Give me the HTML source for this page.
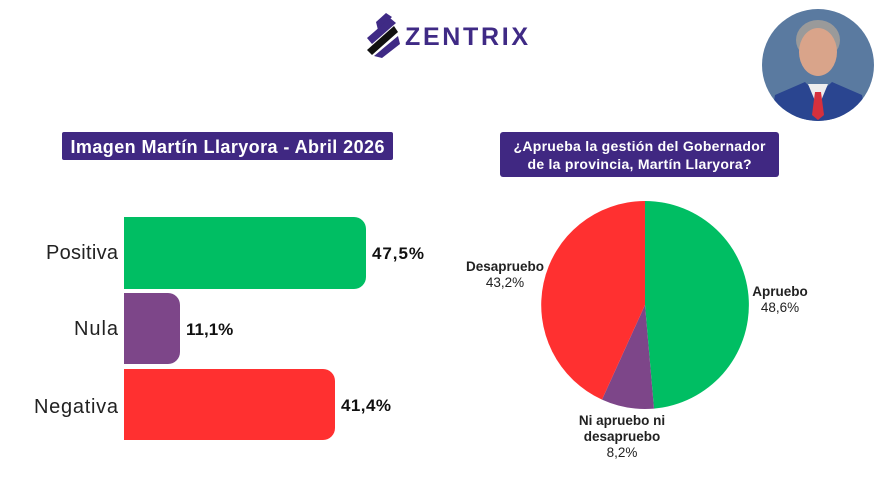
<!DOCTYPE html>
<html><head><meta charset="utf-8"><style>
html,body{margin:0;padding:0;background:#fff;}
body{width:886px;height:498px;overflow:hidden;font-family:"Liberation Sans",sans-serif;}
</style></head><body>
<svg width="886" height="498" viewBox="0 0 886 498" xmlns="http://www.w3.org/2000/svg" font-family="Liberation Sans, sans-serif">
<g>
<path d="M376 22 L386 13 L392 17 L378 30 Z" fill="#3f2a85"/>
<path d="M367 38 L390 18 L396 23 L372 44 Z" fill="#3f2a85"/>
<path d="M367 50 L394 26 L398 32 L372 55 Z" fill="#111"/>
<path d="M374 56 L398 36 L400 44 L382 58 Z" fill="#3f2a85"/>
<text x="405" y="45" font-size="25" font-weight="bold" fill="#3f2a85" letter-spacing="3" textLength="126">ZENTRIX</text>
</g>
<defs><clipPath id="c"><circle cx="818" cy="65" r="56"/></clipPath></defs>
<g clip-path="url(#c)">
<rect x="760" y="8" width="120" height="115" fill="#5a7aa0"/>
<ellipse cx="818" cy="40" rx="22" ry="20" fill="#9a9a9a"/>
<ellipse cx="818" cy="52" rx="19" ry="24" fill="#d9a48a"/>
<path d="M770 125 L775 95 L805 82 L818 95 L832 82 L862 95 L868 125 Z" fill="#2a4590"/>
<path d="M808 84 L818 108 L828 84 Z" fill="#eee"/>
<path d="M815 92 L821 92 L824 115 L818 120 L812 115 Z" fill="#d6303c"/>
</g>
<rect x="62" y="132" width="331" height="28" rx="2" fill="#402882"/>
<text x="227.5" y="153" font-size="18" font-weight="bold" fill="#fff" text-anchor="middle" textLength="314">Imagen Martín Llaryora - Abril 2026</text>
<path d="M124 217 H354 a12 12 0 0 1 12 12 V277 a12 12 0 0 1 -12 12 H124 Z" fill="#00be63"/>
<path d="M124 293 H168 a12 12 0 0 1 12 12 V352 a12 12 0 0 1 -12 12 H124 Z" fill="#7d4689"/>
<path d="M124 369 H323 a12 12 0 0 1 12 12 V428 a12 12 0 0 1 -12 12 H124 Z" fill="#ff3030"/>
<g font-size="20" fill="#222" text-anchor="end">
<text x="118" y="259" textLength="72">Positiva</text>
<text x="118" y="335" textLength="44">Nula</text>
<text x="118" y="413" textLength="84">Negativa</text>
</g>
<g font-size="17" font-weight="bold" fill="#111">
<text x="372" y="259" textLength="52">47,5%</text>
<text x="186" y="335">11,1%</text>
<text x="341" y="411" textLength="50">41,4%</text>
</g>
<rect x="500" y="132" width="279" height="45" rx="3" fill="#402882"/>
<text x="639.5" y="151" font-size="14" font-weight="bold" fill="#fff" text-anchor="middle" textLength="252">¿Aprueba la gestión del Gobernador</text>
<text x="639.5" y="169" font-size="14" font-weight="bold" fill="#fff" text-anchor="middle" textLength="224">de la provincia,  Martín Llaryora?</text>
<path d="M645 305 L645 201 A104 104 0 0 1 654 408.6 Z" fill="#00be63"/>
<path d="M645 305 L654 408.6 A104 104 0 0 1 602 399.6 Z" fill="#7d4689"/>
<path d="M645 305 L602 399.6 A104 104 0 0 1 645 201 Z" fill="#ff3030"/>
<g font-size="13.5" fill="#222" text-anchor="middle">
<text x="505" y="271" font-weight="bold">Desapruebo</text>
<text x="505" y="287">43,2%</text>
<text x="780" y="296" font-weight="bold">Apruebo</text>
<text x="780" y="312">48,6%</text>
<text x="622" y="425" font-weight="bold">Ni apruebo ni</text>
<text x="622" y="441" font-weight="bold">desapruebo</text>
<text x="622" y="457">8,2%</text>
</g>
</svg>
</body></html>
